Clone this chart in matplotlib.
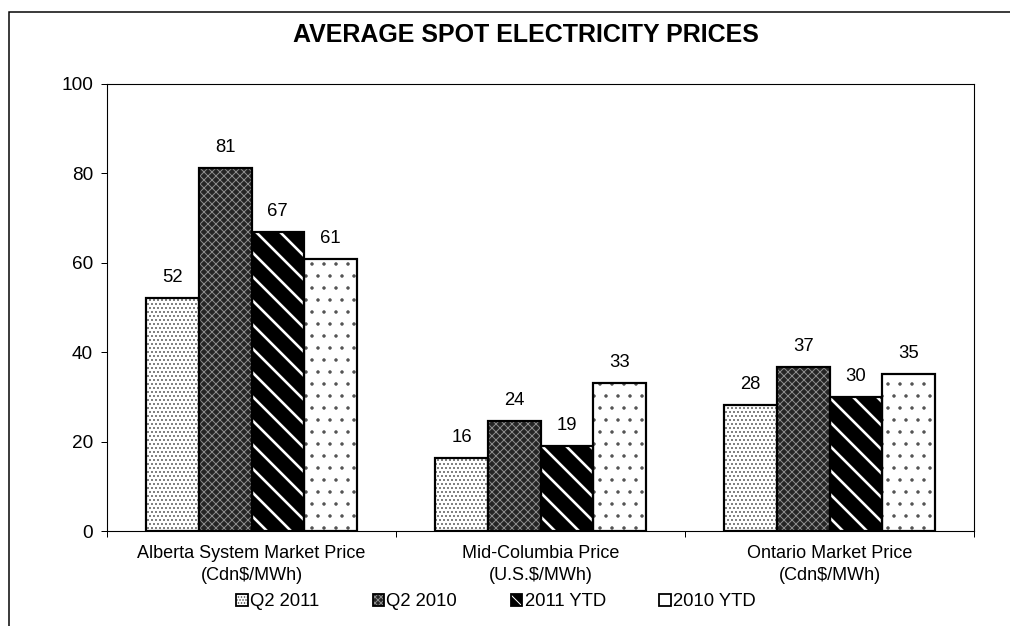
import matplotlib
matplotlib.use("Agg")
import matplotlib.pyplot as plt
from matplotlib.patches import Rectangle
from matplotlib.legend_handler import HandlerTuple
import numpy as np

# ---- data ----
categories = ["Alberta System Market Price\n(Cdn$/MWh)",
              "Mid-Columbia Price\n(U.S.$/MWh)",
              "Ontario Market Price\n(Cdn$/MWh)"]
series_names = ["Q2 2011", "Q2 2010", "2011 YTD", "2010 YTD"]
q2_2011 = [52.1, 16.3, 28.2]
q2_2010 = [81.2, 24.5, 36.7]
ytd_2011 = [66.9, 19.0, 30.0]
ytd_2010 = [60.9, 33.1, 35.1]
series_values = [q2_2011, q2_2010, ytd_2011, ytd_2010]
yticks = [0, 20, 40, 60, 80, 100]
title = "AVERAGE SPOT ELECTRICITY PRICES"

# ---- styles (face, hatch, hatch colour, hatch linewidth, legend hatch) ----
styles = [
    dict(face="white", hatch="...", hcol="#4a4a4a", hlw=1.0, lhatch="...."),
    dict(face="#252525", hatch="xxx", hcol="#8c8c8c", hlw=1.0, lhatch="xxxx"),
    dict(face="black", hatch="\\", hcol="white", hlw=2.6, lhatch="\\\\"),
    dict(face="white", hatch=".", hcol="#505050", hlw=1.0, lhatch=""),
]

W, H, DPI = 1010, 626, 72
FS = 18.5
plt.rcParams["font.family"] = ["Liberation Sans", "DejaVu Sans"]
fig = plt.figure(figsize=(W / DPI, H / DPI), dpi=DPI)
fig.patch.set_facecolor("white")

left, right, top, bottom = 107, 974, 84, 531
ax = fig.add_axes([left / W, 1 - bottom / H, (right - left) / W, (bottom - top) / H])

n = len(series_names)
gap = 1.5
bw = 1.0 / (n + gap)
x = np.arange(len(categories))

handles = []
for i, (name, vals, st) in enumerate(zip(series_names, series_values, styles)):
    pos = x - (n * bw) / 2 + bw * (i + 0.5)
    hb = ax.bar(pos, vals, width=bw, color=st["face"], edgecolor=st["hcol"],
                hatch=st["hatch"], linewidth=0, zorder=2)
    for p in hb:
        if hasattr(p, "set_hatch_linewidth"):
            p.set_hatch_linewidth(st["hlw"])
    ax.bar(pos, vals, width=bw, fill=False, edgecolor="black",
           linewidth=2.2, zorder=3)
    for xp, v in zip(pos, vals):
        ax.annotate(f"{v:.0f}", (xp, v), xytext=(0, 12), textcoords="offset points",
                    ha="center", va="bottom", fontsize=FS)
    hp = Rectangle((0, 0), 1, 1, facecolor=st["face"], edgecolor=st["hcol"],
                   hatch=st["lhatch"], linewidth=0)
    if hasattr(hp, "set_hatch_linewidth"):
        hp.set_hatch_linewidth(1.2 if i == 2 else st["hlw"])
    op = Rectangle((0, 0), 1, 1, fill=False, edgecolor="black", linewidth=1.8)
    handles.append((hp, op))

ax.set_xlim(-0.5, len(categories) - 0.5)
ax.set_ylim(0, 100)
ax.set_yticks(yticks)
ax.tick_params(axis="y", direction="out", length=6, width=1, labelsize=19, pad=8)
ax.set_xticks(np.arange(len(categories) + 1) - 0.5)
ax.set_xticklabels([])
ax.tick_params(axis="x", which="major", direction="out", length=6, width=1)
ax.set_xticks(x, minor=True)
ax.set_xticklabels(categories, minor=True, fontsize=18, linespacing=1.4)
ax.tick_params(axis="x", which="minor", length=0, pad=14)
for s in ax.spines.values():
    s.set_linewidth(1.1)
    s.set_color("black")

fig.text(526 / W, 1 - 35 / H, title, ha="center", va="center",
         fontsize=25, fontweight="bold")

leg = fig.legend(handles, series_names,
                 handler_map={tuple: HandlerTuple(ndivide=1, pad=0)},
                 loc="center", bbox_to_anchor=(496 / W, 1 - 602 / H), ncol=4,
                 frameon=False, fontsize=FS, handlelength=0.62, handleheight=0.62,
                 handletextpad=0.12, columnspacing=2.9, borderaxespad=0)

# outer chart border (only top and left visible)
fig.add_artist(Rectangle((9 / W, -0.2), 1.5, 1 - 12 / H + 0.2, transform=fig.transFigure,
                         fill=False, edgecolor="black", linewidth=1.5))

fig.savefig("out.png", dpi=DPI)
